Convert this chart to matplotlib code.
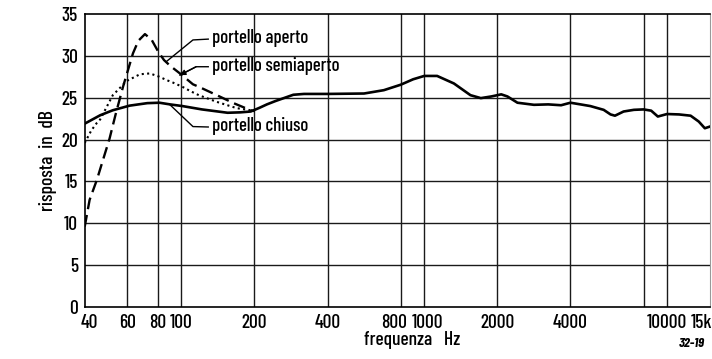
import matplotlib
matplotlib.use("Agg")
from matplotlib import pyplot as plt
from matplotlib import transforms
from matplotlib.ticker import FixedLocator, NullLocator

plt.rcParams["font.family"] = ["Barlow Condensed", "DejaVu Sans"]
plt.rcParams["font.weight"] = "medium"

# response of the loudspeaker with the port closed / half open / open (Hz, dB)
freq_chiuso = [40, 46.3, 52.2, 61.2, 72.4, 81.2, 89.8, 101, 121.5, 155, 175, 193,
               210, 225, 244, 264, 289, 320, 400, 565, 682, 800, 900, 1000, 1130,
               1325, 1550, 1710, 1890, 2075, 2200, 2420, 2830, 3240, 3660, 4000,
               4400, 4830, 5480, 5850, 6100, 6620, 7300, 8000, 8600, 9160, 10000,
               11200, 12500, 13500, 14300, 15000]
db_chiuso = [21.9, 22.9, 23.5, 24.05, 24.35, 24.4, 24.2, 24.0, 23.6, 23.2, 23.25,
             23.35, 23.8, 24.2, 24.6, 24.95, 25.35, 25.45, 25.45, 25.5, 25.9, 26.55,
             27.2, 27.6, 27.6, 26.7, 25.3, 24.95, 25.15, 25.4, 25.15, 24.4, 24.15,
             24.2, 24.1, 24.4, 24.2, 24.0, 23.55, 23.0, 22.85, 23.35, 23.55, 23.6,
             23.45, 22.75, 23.05, 23.0, 22.85, 22.15, 21.35, 21.55]

freq_aperto = [40, 41.9, 44.9, 47.6, 50.6, 53.6, 57.5, 60, 63.2, 66.5, 70.8, 75.5,
               80.3, 84.8, 90, 98.6, 111.6, 118, 140, 164, 193, 200]
db_aperto = [9.6, 12.8, 15.2, 17.6, 20.1, 23.0, 26.3, 28.1, 30.3, 31.8, 32.6, 31.9,
             30.5, 29.5, 28.8, 27.9, 26.6, 26.3, 25.3, 24.35, 23.5, 23.4]

freq_semi = [40, 42.6, 44.9, 46.3, 52.2, 59.6, 67.5, 74.2, 81.2, 87, 92.4, 101,
             108.7, 118, 140, 169, 193, 200]
db_semi = [19.6, 21.1, 22.0, 22.4, 25.3, 27.0, 27.8, 27.9, 27.5, 27.1, 26.8, 26.3,
           25.8, 25.3, 24.5, 23.75, 23.5, 23.4]

grid_freqs = [60, 80, 100, 200, 400, 800, 1000, 2000, 4000, 8000, 10000]
xtick_freqs = [40, 60, 80, 100, 200, 400, 800, 1000, 2000, 4000, 10000, 15000]
xtick_labels = ["40", "60", "80", "100", "200", "400", "800", "1000", "2000",
                "4000", "10000", "15k"]
ytick_vals = [0, 5, 10, 15, 20, 25, 30, 35]

fig = plt.figure(figsize=(7.12, 3.59), dpi=100)
ax = fig.add_axes([0.119, 0.145, 0.878, 0.816])
ax.set_xscale("log")
ax.set_xlim(40, 15000)
ax.set_ylim(0, 35)

for f in grid_freqs:
    ax.axvline(f, color="#1a1a1a", lw=1.0, zorder=1)
for v in ytick_vals[1:-1]:
    ax.axhline(v, color="#1a1a1a", lw=1.0, zorder=1)

ax.plot(freq_chiuso, db_chiuso, color="black", lw=1.9, zorder=3)
ax.plot(freq_aperto, db_aperto, color="black", lw=1.7, dashes=(5, 2.5), zorder=3)
ax.plot(freq_semi, db_semi, color="black", lw=1.5, dashes=(1, 1.6), zorder=3)

# leader lines from each curve to its name
leaders = [
    ([86.6, 111.6, 129], [29.3, 31.9, 32.0], "portello aperto"),
    ([98.6, 115, 129], [27.7, 28.7, 28.7], "portello semiaperto"),
    ([89.8, 111.6, 129], [24.15, 21.55, 21.5], "portello chiuso"),
]
for xs, ys, label in leaders:
    ax.plot(xs, ys, color="black", lw=1.0, zorder=4)
    ax.text(133.5, ys[-1] + 0.1, label, fontsize=13.5, va="center", ha="left",
            zorder=4)
ax.annotate("", xy=(leaders[1][0][0], leaders[1][1][0]),
            xytext=(leaders[1][0][1], leaders[1][1][1]),
            arrowprops=dict(arrowstyle="-|>", color="black", lw=1.0,
                            mutation_scale=8, shrinkA=0, shrinkB=0), zorder=4)

ax.xaxis.set_major_locator(FixedLocator(xtick_freqs))
ax.xaxis.set_minor_locator(NullLocator())
ax.set_xticklabels(xtick_labels)
ax.set_yticks(ytick_vals)
ax.tick_params(axis="both", length=0, labelsize=14)
ax.tick_params(axis="x", pad=5)
ax.tick_params(axis="y", pad=5)

# nudge crowded labels apart (points)
nudges = {"40": 3, "800": -5, "1000": 2, "15k": -6}
for lbl in ax.get_xticklabels():
    dx = nudges.get(lbl.get_text(), 0)
    if dx:
        lbl.set_transform(lbl.get_transform()
                          + transforms.ScaledTranslation(dx / 72, 0,
                                                         fig.dpi_scale_trans))

for side in ["top", "left", "bottom"]:
    ax.spines[side].set_linewidth(1.2)
ax.spines["right"].set_color("#999999")

fig.text(0.068, 0.552, "risposta  in  dB", rotation=90, fontsize=14,
         ha="center", va="center")
fig.text(0.579, 0.053, "frequenza   Hz", fontsize=14, ha="center", va="center")
fig.text(0.953, 0.044, "32-19", fontsize=10, style="italic", weight="bold",
         ha="left", va="center")

fig.savefig("out.png", dpi=100)
